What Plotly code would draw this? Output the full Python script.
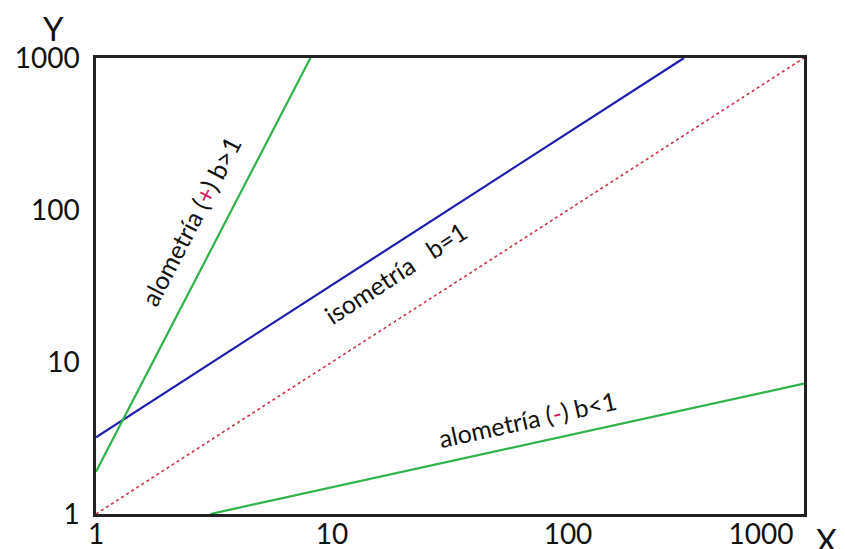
import plotly.graph_objects as go

# Data (log-log)
steep_x = [1, 8.1]
steep_y = [1.9, 1000]
iso_x = [1, 310]
iso_y = [3.2, 1000]
ref_x = [1, 1000]
ref_y = [1, 1000]
shallow_x = [3.05, 1000]
shallow_y = [1, 7.2]
tick_vals = [1, 10, 100, 1000]
x_tick_text = ["1", "10", "100", "1000" + "&nbsp;" * 12]
y_tick_text = ["1", "10", "100", "1000"]

GREEN = "#2fb24a"
BLUE = "#1c1cae"
RED = "#d0304a"
FONT = "Lato"

fig = go.Figure()
fig.add_trace(go.Scatter(x=ref_x, y=ref_y, mode="lines",
                         line=dict(color=RED, width=1.6, dash="dot")))
fig.add_trace(go.Scatter(x=iso_x, y=iso_y, mode="lines",
                         line=dict(color=BLUE, width=2.2)))
fig.add_trace(go.Scatter(x=steep_x, y=steep_y, mode="lines",
                         line=dict(color=GREEN, width=2.2)))
fig.add_trace(go.Scatter(x=shallow_x, y=shallow_y, mode="lines",
                         line=dict(color=GREEN, width=2.2)))

axis_common = dict(type="log", showgrid=False, zeroline=False, automargin=False,
                   showline=True, linecolor="#222", linewidth=2.5, mirror=True,
                   ticks="", tickvals=tick_vals, ticklabeloverflow="allow",
                   tickfont=dict(family=FONT, size=28, color="#111"))
fig.update_xaxes(range=[0, 3], ticktext=x_tick_text, ticklabelstandoff=-6,
                 **axis_common)
fig.update_yaxes(range=[0, 3], ticktext=y_tick_text, ticklabelstandoff=8,
                 **axis_common)

ann_font = dict(family=FONT, size=25, color="#111")
fig.add_annotation(x=0.40, y=1.93, xref="x", yref="y", showarrow=False,
                   text='alometría (<span style="color:#d81b60">+</span>) b&gt;1',
                   textangle=-62.5, font=ann_font)
fig.add_annotation(x=1.267, y=1.585, xref="x", yref="y", showarrow=False,
                   text="isometría&nbsp;&nbsp;&nbsp;b=1",
                   textangle=-33, font=ann_font)
fig.add_annotation(x=1.83, y=0.625, xref="x", yref="y", showarrow=False,
                   text='alometría (<span style="color:#d81b60">-</span>) b&lt;1',
                   textangle=-12.4, font=ann_font)

# axis titles
fig.add_annotation(x=-0.06, y=1.018, xref="paper", yref="paper", showarrow=False,
                   text="Y", font=dict(family=FONT, size=33, color="#111"),
                   xanchor="center", yanchor="bottom")
fig.add_annotation(x=1.014, y=-0.01, xref="paper", yref="paper", showarrow=False,
                   text="X", font=dict(family=FONT, size=32, color="#111"),
                   xanchor="left", yanchor="top")

fig.update_layout(width=836, height=541,
                  margin=dict(l=88, r=40, t=50, b=35),
                  paper_bgcolor="white", plot_bgcolor="white",
                  showlegend=False)
fig.write_html("out.html")
